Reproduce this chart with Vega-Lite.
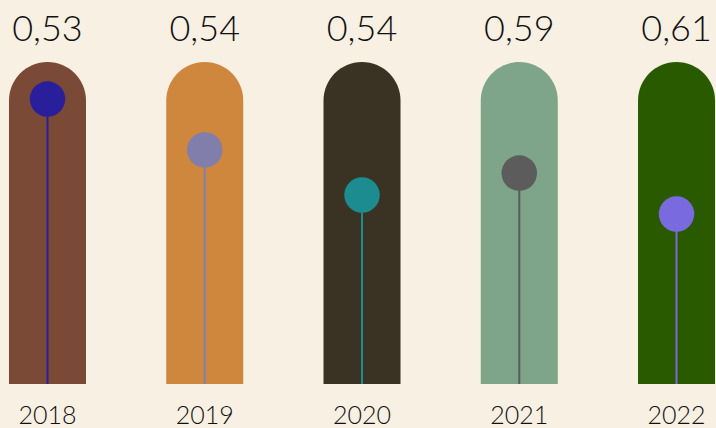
{
  "$schema": "https://vega.github.io/schema/vega-lite/v6.json",
  "width": 716,
  "height": 428,
  "autosize": {"type": "none"},
  "padding": 0,
  "background": "#f8f0e3",
  "config": {"view": {"stroke": null}},
  "data": {
    "values": [
      {"year": 2018, "value": 0.53, "marker": 0.885},
      {"year": 2019, "value": 0.54, "marker": 0.727},
      {"year": 2020, "value": 0.54, "marker": 0.587},
      {"year": 2021, "value": 0.59, "marker": 0.655},
      {"year": 2022, "value": 0.61, "marker": 0.528}
    ]
  },
  "transform": [
    {"calculate": "replace(format(datum.value, '.2f'), '.', ',')", "as": "label"},
    {"calculate": "toString(datum.year)", "as": "yearLabel"}
  ],
  "encoding": {
    "x": {"field": "year", "type": "quantitative", "scale": {"domain": [2017.698, 2022.251], "nice": false, "zero": false, "padding": 0}, "axis": null}
  },
  "layer": [
    {
      "mark": {"type": "bar", "orient": "vertical", "size": 77, "cornerRadiusTopLeft": 38.5, "cornerRadiusTopRight": 38.5},
      "encoding": {
        "y": {"datum": 1, "type": "quantitative", "scale": {"domain": [-0.13665, 1.19255], "nice": false, "zero": false, "padding": 0}, "axis": null},
        "y2": {"datum": 0},
        "color": {"field": "yearLabel", "type": "nominal", "scale": {"domain": ["2018","2019","2020","2021","2022"], "range": ["#7b4a36","#cf873e","#3a3324","#7ea48a","#2a5a00"]}, "legend": null}
      }
    },
    {
      "layer": [
        {
          "mark": {"type": "rule", "strokeWidth": 2},
          "encoding": {
            "y": {"field": "marker", "type": "quantitative", "scale": {"domain": [-0.13665, 1.19255], "nice": false, "zero": false, "padding": 0}, "axis": null},
            "y2": {"datum": 0},
            "color": {"field": "yearLabel", "type": "nominal", "scale": {"domain": ["2018","2019","2020","2021","2022"], "range": ["#2a1f9a","#817eac","#1c8c90","#5c5c5c","#7a6ae0"]}, "legend": null}
          }
        },
        {
          "mark": {"type": "circle", "size": 1260, "opacity": 1},
          "encoding": {
            "y": {"field": "marker", "type": "quantitative"},
            "color": {"field": "yearLabel", "type": "nominal", "legend": null}
          }
        }
      ]
    },
    {
      "mark": {"type": "text", "font": "Lato", "fontSize": 36, "fontWeight": 300, "baseline": "alphabetic", "color": "#111111"},
      "encoding": {
        "y": {"datum": 1.0652, "type": "quantitative"},
        "text": {"field": "label"}
      }
    },
    {
      "mark": {"type": "text", "font": "Lato", "fontSize": 25, "fontWeight": 300, "baseline": "alphabetic", "color": "#111111"},
      "encoding": {
        "y": {"datum": -0.1242, "type": "quantitative"},
        "text": {"field": "yearLabel"}
      }
    }
  ],
  "resolve": {"scale": {"color": "independent"}}
}
